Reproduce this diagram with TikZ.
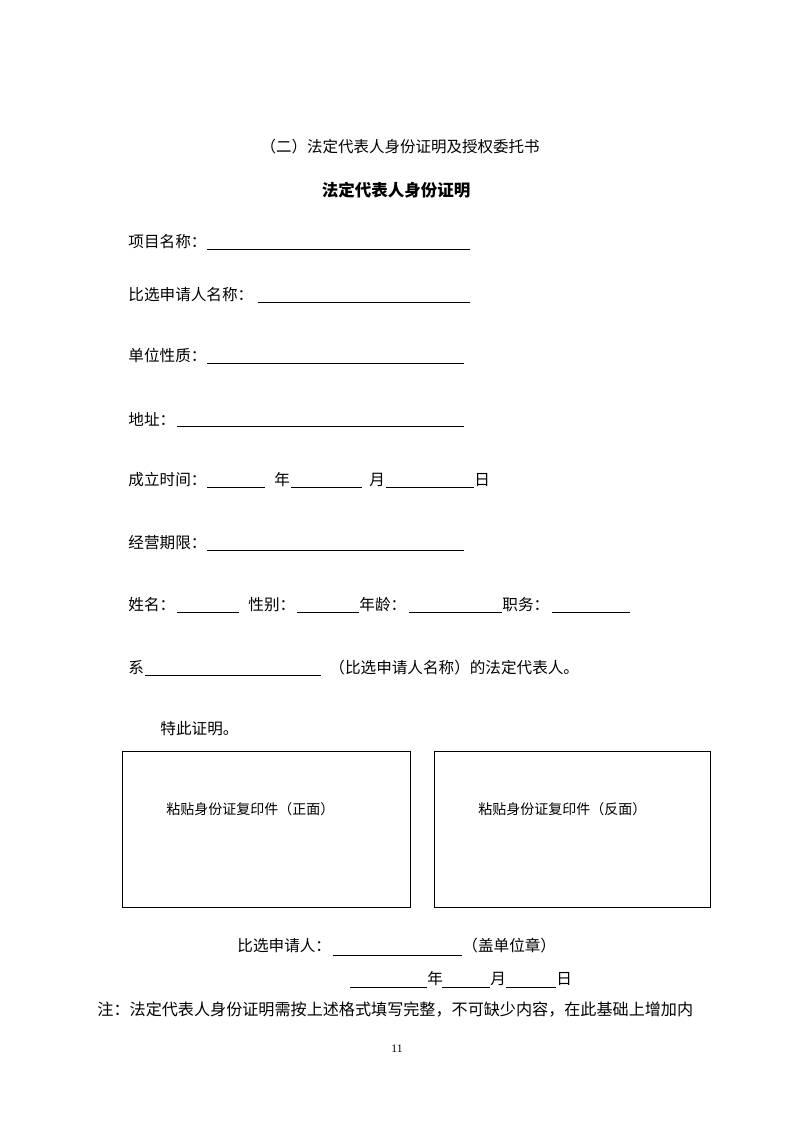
\documentclass[tikz,border=0pt]{standalone}
\usepackage{fontspec}
\newfontfamily\cjk{Noto Sans CJK SC}
\newfontfamily\numfont{Liberation Serif}
\usetikzlibrary{positioning}
\tikzset{
   every path/.style={line width=0.9pt},
   txt/.style={anchor=west,inner sep=0pt,font=\cjk\fontsize{15.6}{15.6}\selectfont},
   boxtxt/.style={anchor=west,inner sep=0pt,font=\cjk\fontsize{14}{14}\selectfont},
   headtxt/.style={inner sep=0pt,font=\cjk\fontsize{15.5}{15.5}\selectfont},
   titletxt/.style={inner sep=0pt,font=\cjk\bfseries\fontsize{16.5}{16.5}\selectfont},
   blank/.style={draw,line width=0.9pt},
   pastebox/.style={draw,line width=0.9pt},
}

\begin{document}
\begin{tikzpicture}[x=1pt,y=-1pt]
      \useasboundingbox (0,0) rectangle (794,1123);

      % headings
      \node[headtxt] (head) at (400,147) {（二）法定代表人身份证明及授权委托书};
      \node[titletxt] (title) at (396,190) {法定代表人身份证明};

      % project
      \node[txt] (xmmc) at (128,242) {项目名称：};
      \draw[blank] (207,249) -- (470,249);

      % applicant
      \node[txt] (sqr) at (128,295) {比选申请人名称：};
      \draw[blank] (258,302) -- (470,302);

      % type
      \node[txt] (dwxz) at (128,356) {单位性质：};
      \draw[blank] (207,363) -- (464,363);

      % address
      \node[txt] (dz) at (128,419) {地址：};
      \draw[blank] (177,426) -- (464,426);

      % founded
      \node[txt] (clsj) at (128,480) {成立时间：};
      \draw[blank] (207,487) -- (265,487);
      \node[txt] (cly) at (274,480) {年};
      \draw[blank] (291,487) -- (362,487);
      \node[txt] (clm) at (369,480) {月};
      \draw[blank] (386,487) -- (474,487);
      \node[txt] (cld) at (474,480) {日};

      % term
      \node[txt] (jyqx) at (128,543) {经营期限：};
      \draw[blank] (207,550) -- (464,550);

      % person
      \node[txt] (xm) at (128,605) {姓名：};
      \draw[blank] (177,612) -- (239,612);
      \node[txt] (xb) at (248,605) {性别：};
      \draw[blank] (297,612) -- (359,612);
      \node[txt] (nl) at (359,605) {年龄：};
      \draw[blank] (409,612) -- (502,612);
      \node[txt] (zw) at (502,605) {职务：};
      \draw[blank] (552,612) -- (630,612);

      % statement
      \node[txt] (xi) at (128,668) {系};
      \draw[blank] (145,675) -- (321,675);
      \node[txt] (fddb) at (329,668) {（比选申请人名称）的法定代表人。};

      \node[txt] (tczm) at (160,729) {特此证明。};

      % id card boxes
      \draw[pastebox] (122,751) rectangle (410,907);
      \draw[pastebox] (434,751) rectangle (710,907);
      \node[boxtxt] (zm) at (166,809) {粘贴身份证复印件（正面）};
      \node[boxtxt] (fm) at (478,809) {粘贴身份证复印件（反面）};

      % signature
      \node[txt] (qz) at (237,946) {比选申请人：};
      \draw[blank] (333,955) -- (462,955);
      \node[txt] (gz) at (462,946) {（盖单位章）};

      \draw[blank] (350,987) -- (427,987);
      \node[txt] (qy) at (427,979) {年};
      \draw[blank] (442,987) -- (490,987);
      \node[txt] (qm) at (490,979) {月};
      \draw[blank] (506,987) -- (556,987);
      \node[txt] (qd) at (556,979) {日};

      % note
      \node[anchor=west,inner sep=0pt,font=\cjk\fontsize{16.1}{16.1}\selectfont] (zhu) at (97,1010)
        {注：法定代表人身份证明需按上述格式填写完整，不可缺少内容，在此基础上增加内};

      % page number
      \node[inner sep=0pt,font=\numfont\fontsize{11.5}{11.5}\selectfont] (page) at (397,1049) {11};
\end{tikzpicture}
\end{document}
